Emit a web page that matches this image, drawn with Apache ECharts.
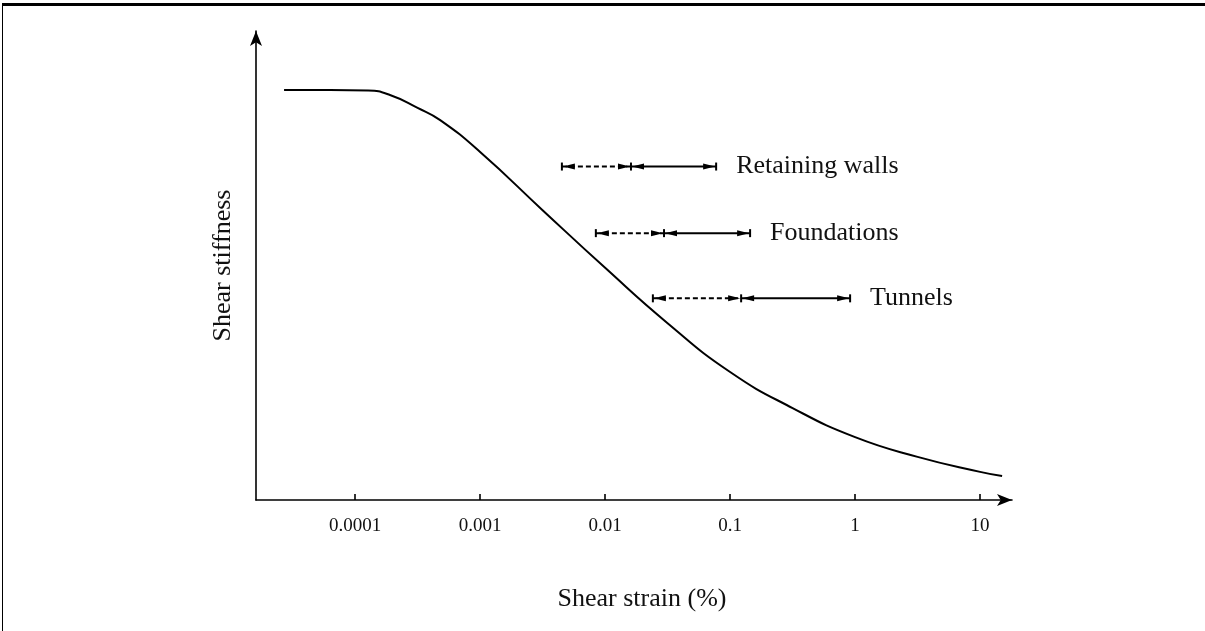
<!DOCTYPE html>
<html>
<head>
<meta charset="utf-8">
<script src="https://cdn.jsdelivr.net/npm/echarts@6/dist/echarts.min.js"></script>
<style>
  html, body { margin: 0; padding: 0; background: #fff; }
  #wrap { position: relative; width: 1205px; height: 631px; overflow: hidden; }
  #chart { position: absolute; left: 0; top: 0; width: 1205px; height: 631px; }
  #frame { position: absolute; left: 2px; top: 3px; right: 0; bottom: 0;
           border-top: 3px solid #000; border-left: 1px solid #000; pointer-events: none; }
</style>
</head>
<body>
<div id="wrap">
  <div id="chart"></div>
  <div id="frame"></div>
</div>
<script>
// Stiffness degradation curve: shear strain (%) vs relative shear stiffness
const strainPct = [2.7e-5, 6.3e-5, 1.27e-4, 1.9e-4, 3.16e-4, 4.79e-4, 0.001,
  0.00316, 0.01, 0.0316, 0.1, 0.316, 1, 3.16, 10, 15];
const stiffness = [87.4, 87.4, 87.3, 86.35, 83.6, 81.0, 74.2,
  61.8, 49.5, 37.7, 27.3, 19.6, 13.4, 9.2, 6.0, 5.1];

// Strain axis ticks
const tickValues = [0.0001, 0.001, 0.01, 0.1, 1, 10];
const tickLabels = ['0.0001', '0.001', '0.01', '0.1', '1', '10'];

// Typical strain ranges for geotechnical structures
const rangeNames = ['Retaining walls', 'Foundations', 'Tunnels'];
const rangeStart = [0.00451, 0.00843, 0.0241];
const rangeMid = [0.0161, 0.0296, 0.1225];
const rangeEnd = [0.0773, 0.1445, 0.912];
const rangeLevel = [71.1, 56.9, 43.0];

const FONT = '"Liberation Serif", "Times New Roman", serif';

const curveData = strainPct.map((x, i) => [x, stiffness[i]]);
const rangeData = rangeNames.map((n, i) => [rangeStart[i], rangeMid[i], rangeEnd[i], rangeLevel[i], i]);

function arrowHead(tipX, y, dir) {
  // dir: -1 points left, +1 points right
  const len = 12, half = 3;
  return {
    type: 'polygon',
    shape: { points: [[tipX, y], [tipX - dir * len, y - half], [tipX - dir * len, y + half]] },
    style: { fill: '#000' }
  };
}

function renderRange(params, api) {
  const level = api.value(3);
  const s = api.coord([api.value(0), level]);
  const m = api.coord([api.value(1), level]);
  const e = api.coord([api.value(2), level]);
  const y = s[1];
  const cap = 4;
  const stroke = { stroke: '#000', lineWidth: 2 };
  const name = rangeNames[api.value(4)];
  return {
    type: 'group',
    children: [
      { type: 'line', shape: { x1: s[0], y1: y, x2: m[0], y2: y },
        style: { stroke: '#000', lineWidth: 2, lineDash: [5, 3] } },
      { type: 'line', shape: { x1: m[0], y1: y, x2: e[0], y2: y }, style: stroke },
      { type: 'line', shape: { x1: s[0], y1: y - cap, x2: s[0], y2: y + cap }, style: stroke },
      { type: 'line', shape: { x1: m[0], y1: y - cap, x2: m[0], y2: y + cap }, style: stroke },
      { type: 'line', shape: { x1: e[0], y1: y - cap, x2: e[0], y2: y + cap }, style: stroke },
      arrowHead(s[0] + 1, y, -1),
      arrowHead(m[0] - 1, y, 1),
      arrowHead(m[0] + 1, y, -1),
      arrowHead(e[0] - 1, y, 1),
      { type: 'text', x: e[0] + 20, y: y,
        style: { text: name, fill: '#111', font: '26px ' + FONT,
                 align: 'left', verticalAlign: 'middle' } }
    ]
  };
}

const chart = echarts.init(document.getElementById('chart'), null, { renderer: 'canvas' });
chart.setOption({
  backgroundColor: '#fff',
  animation: false,
  grid: { left: 256, right: 193, top: 31, bottom: 131, containLabel: false },
  xAxis: {
    type: 'log',
    logBase: 10,
    min: 1.61e-5,
    max: 18,
    name: 'Shear strain (%)',
    nameLocation: 'middle',
    nameGap: 86,
    nameTextStyle: { fontFamily: FONT, fontSize: 26, color: '#111', padding: [0, 0, 0, 16] },
    axisLine: { show: true, symbol: ['none', 'arrow'], symbolSize: [9, 15],
                lineStyle: { color: '#000', width: 1.6 } },
    axisTick: { show: true, inside: true, length: 6, customValues: tickValues,
                lineStyle: { color: '#000', width: 1.6 } },
    axisLabel: {
      customValues: tickValues,
      margin: 17,
      fontFamily: FONT, fontSize: 19, color: '#111',
      formatter: v => {
        const i = tickValues.findIndex(t => Math.abs(Math.log10(t) - Math.log10(v)) < 0.01);
        return i >= 0 ? tickLabels[i] : '';
      }
    },
    splitLine: { show: false },
    minorTick: { show: false }
  },
  yAxis: {
    type: 'value',
    min: 0,
    max: 100,
    name: 'Shear stiffness',
    nameLocation: 'middle',
    nameGap: 20,
    nameRotate: 90,
    nameTextStyle: { fontFamily: FONT, fontSize: 26, color: '#111' },
    axisLine: { show: true, symbol: ['none', 'arrow'], symbolSize: [9, 15],
                lineStyle: { color: '#000', width: 1.6 } },
    axisTick: { show: false },
    axisLabel: { show: false },
    splitLine: { show: false }
  },
  series: [
    {
      type: 'line',
      data: curveData,
      smooth: 0.5,
      symbol: 'none',
      lineStyle: { color: '#000', width: 2 },
      z: 3
    },
    {
      type: 'custom',
      data: rangeData,
      encode: { x: [0, 1, 2], y: 3 },
      renderItem: renderRange,
      clip: false,
      z: 4
    }
  ]
});
</script>
</body>
</html>
